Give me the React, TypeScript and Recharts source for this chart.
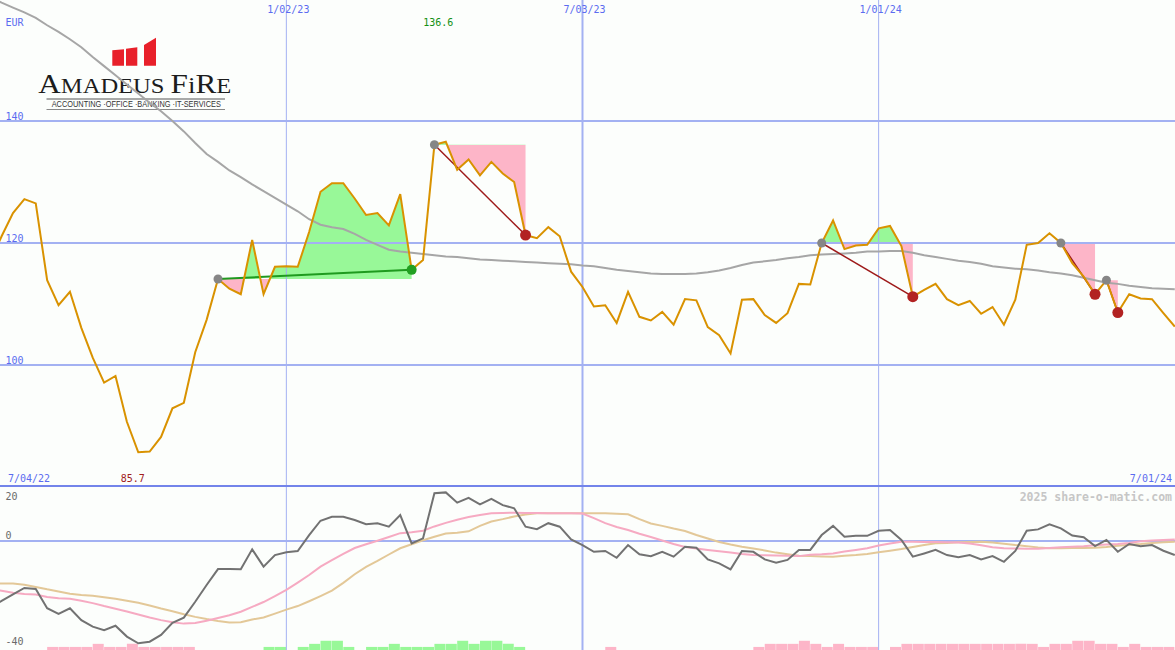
import React from "react";
import {
  ComposedChart,
  Line,
  Area,
  Bar,
  XAxis,
  YAxis,
  ReferenceLine,
  ReferenceDot,
} from "recharts";

// weekly closes, week 0 = 7/04/22
const PRICE = [
  117.0, 121.1, 124.9, 127.2, 126.5, 113.9, 109.8, 112.0, 106.1, 101.2,
  97.1, 98.2, 90.7, 85.7, 85.8, 88.2, 92.9, 93.8, 102.1, 107.4,
  114.1, 112.5, 111.6, 120.5, 111.6, 116.1, 116.2, 116.1, 121.8, 128.4,
  129.8, 129.8, 127.3, 124.6, 124.9, 122.9, 128.0, 115.6, 117.2, 136.1,
  136.6, 132.0, 133.7, 131.1, 133.3, 131.4, 130.0, 121.3, 120.8, 122.6,
  121.1, 115.3, 112.8, 109.6, 109.8, 106.9, 112.0, 107.9, 107.3, 108.7,
  106.6, 110.8, 110.6, 106.2, 104.9, 101.9, 110.7, 110.8, 108.2, 106.9,
  108.5, 113.3, 113.2, 120.0, 123.7, 119.0, 119.6, 119.7, 122.4, 122.8,
  119.5, 111.2, 112.3, 113.3, 110.8, 109.8, 110.5, 108.4, 109.5, 106.6,
  110.7, 119.7, 120.0, 121.6, 120.0, 116.7, 114.5, 111.6, 113.9, 108.6,
  111.6, 110.9, 110.8, 108.5, 106.3,
];

const AVG = [
  160.3, 159.4, 158.6, 157.8, 156.9, 155.7, 154.6, 153.4, 152.1, 150.5,
  149.0, 147.5, 146.0, 144.5, 143.0, 141.6, 140.0, 138.3, 136.4, 134.6,
  133.3, 131.9, 130.8, 129.6, 128.5, 127.4, 126.3, 125.2, 123.9, 123.0,
  122.6, 122.3, 121.5, 120.5, 119.7, 118.9, 118.6, 118.4, 118.2, 118.0,
  117.8, 117.7, 117.5, 117.3, 117.2, 117.1, 117.0, 116.9, 116.8, 116.7,
  116.6, 116.5, 116.3, 116.2, 115.9, 115.6, 115.4, 115.2, 115.0, 114.9,
  114.9, 114.9, 115.0, 115.2, 115.5, 115.9, 116.4, 116.8, 117.0, 117.2,
  117.5, 117.7, 118.0, 118.1, 118.2, 118.3, 118.4, 118.6, 118.6, 118.7,
  118.7, 118.4, 118.0, 117.7, 117.4, 117.1, 116.9, 116.6, 116.2, 116.0,
  115.8, 115.7, 115.5, 115.2, 115.0, 114.7, 114.3, 113.9, 113.5, 113.3,
  113.0, 112.8, 112.6, 112.5, 112.4,
];

const MOMENTUM = [
  -24.7, -22.2, -19.8, -17.4, -17.8, -24.9, -27.0, -24.9, -29.3, -31.7,
  -33.0, -31.4, -35.4, -37.9, -37.3, -34.8, -30.3, -28.4, -22.5, -16.3,
  -10.4, -10.4, -10.5, -3.1, -9.5, -5.2, -4.2, -3.7, 2.2, 7.5,
  9.0, 9.0, 7.8, 6.2, 6.6, 5.3, 9.6, -0.9, 1.0, 17.7,
  18.0, 14.2, 16.0, 13.6, 15.6, 13.3, 12.1, 5.3, 4.4, 6.6,
  5.3, 0.6, -1.5, -4.0, -3.7, -6.2, -1.5, -4.9, -5.6, -4.0,
  -5.8, -2.1, -2.5, -6.8, -8.3, -10.5, -3.7, -4.0, -6.8, -8.0,
  -7.0, -3.3, -3.3, 2.2, 5.6, 1.6, 1.9, 1.9, 3.8, 4.1,
  0.4, -5.8, -4.6, -3.3, -5.2, -6.0, -5.2, -6.8, -5.6, -7.7,
  -3.7, 3.8, 4.3, 6.2, 4.7, 2.0, 1.4, -1.9, 0.4, -4.0,
  -1.1, -1.9, -1.5, -3.6, -5.2,
];

const SIGNAL_FAST = [
  -17.8, -18.4, -19.2, -19.6, -19.8, -20.7, -21.2, -21.4, -22.1, -23.0,
  -24.1, -25.1, -26.1, -27.2, -28.3, -29.3, -30.1, -30.6, -30.4, -29.5,
  -28.5, -27.5, -26.2, -24.4, -22.6, -20.4, -18.1, -15.4, -12.6, -9.5,
  -7.1, -4.8, -2.6, -1.2, 0.1, 1.5, 2.9, 3.2, 3.8, 5.4,
  6.7, 7.9, 8.9, 9.6, 10.3, 10.4, 10.5, 10.4, 10.4, 10.3,
  10.3, 10.3, 10.2, 8.5, 6.6, 5.2, 4.1, 2.7, 1.5, 0.2,
  -1.1, -2.2, -2.8, -3.3, -3.8, -4.3, -4.8, -5.2, -5.3, -5.4,
  -5.5, -5.6, -5.1, -4.9, -4.6, -3.9, -3.3, -2.7, -1.7, -0.9,
  -0.3, -0.3, -0.4, -0.4, -0.5, -0.6, -0.9, -1.6, -2.3, -2.7,
  -2.8, -2.9, -2.9, -2.6, -2.3, -2.1, -1.9, -1.6, -1.3, -1.1,
  -0.7, -0.1, 0.2, 0.4, 0.6,
];

const SIGNAL_SLOW = [
  -15.7, -15.7, -15.7, -16.2, -17.0, -17.9, -18.7, -19.5, -20.0, -20.3,
  -20.8, -21.4, -22.1, -22.9, -23.9, -25.0, -26.0, -27.1, -28.1, -28.9,
  -29.6, -30.2, -30.1, -29.1, -28.3, -26.9, -25.4, -24.1, -22.3, -20.4,
  -18.4, -15.5, -12.3, -9.6, -7.4, -5.0, -2.7, -1.2, 0.3, 1.6,
  2.8, 3.1, 3.6, 5.6, 7.2, 8.1, 9.1, 9.8, 10.3, 10.3,
  10.3, 10.3, 10.3, 10.3, 10.3, 10.1, 9.9, 8.1, 6.5, 5.6,
  4.6, 3.7, 2.2, 0.9, -0.4, -1.3, -2.1, -2.8, -3.5, -4.3,
  -4.9, -5.5, -5.6, -5.7, -5.8, -5.5, -5.2, -4.8, -4.2, -3.6,
  -3.0, -2.2, -1.5, -0.8, -0.7, -0.5, -0.4, -0.3, -0.6, -1.0,
  -1.5, -1.9, -2.4, -2.7, -2.7, -2.6, -2.6, -2.5, -2.2, -1.8,
  -1.4, -1.1, -0.7, -0.5, -0.3,
];

// strength histogram at the bottom (levels 1-3)
const BAR_UP = [
  0, 0, 0, 0, 0, 0, 0, 0, 0, 0,
  0, 0, 0, 0, 0, 0, 0, 0, 0, 0,
  0, 0, 0, 0, 1, 1, 0, 1, 2, 3,
  3, 1, 0, 1, 1, 2, 1, 1, 1, 2,
  2, 3, 2, 3, 3, 2, 1, 0, 0, 0,
  0, 0, 0, 0, 0, 0, 0, 0, 0, 0,
  0, 0, 0, 0, 0, 0, 0, 0, 0, 0,
  0, 0, 0, 0, 0, 0, 0, 0, 0, 0,
  0, 0, 0, 0, 0, 0, 0, 0, 0, 0,
  0, 0, 0, 0, 0, 0, 0, 0, 0, 0,
  0, 0, 0, 0, 0,
];
const BAR_DOWN = [
  0, 0, 0, 0, 0, 1, 1, 1, 1, 2,
  1, 1, 2, 1, 1, 1, 1, 1, 0, 0,
  0, 0, 0, 0, 0, 0, 0, 0, 0, 0,
  0, 0, 0, 0, 0, 0, 0, 0, 0, 0,
  0, 0, 0, 0, 0, 0, 0, 0, 0, 0,
  0, 0, 0, 0, 1, 0, 0, 0, 0, 0,
  0, 0, 0, 0, 0, 0, 0, 1, 2, 2,
  2, 3, 2, 1, 2, 1, 1, 1, 0, 1,
  2, 2, 2, 2, 2, 2, 2, 2, 2, 2,
  2, 2, 1, 2, 2, 3, 3, 2, 2, 1,
  2, 1, 1, 1, 0,
];

// trades: entry week / exit week
const TRADE_START = [20, 39, 73, 94, 98];
const TRADE_END = [37, 47, 81, 97, 99];

const GRID_WEEKS = [26, 52, 78];
const GRID_DATES = ["1/02/23", "7/03/23", "1/01/24"];
const PRICE_TICKS = [100, 120, 140];
const START_DATE = "7/04/22";
const END_DATE = "7/01/24";

const X_DOMAIN = [0.86, 104.02];
const PRICE_DOMAIN = [80, 159.84];
const OSC_DOMAIN = [-40.37, 20];

const MONO = "'DejaVu Sans Mono', 'Liberation Mono', monospace";
const AXIS_BLUE = "#5b6cf0";
const GRID = "#a3b1f2";
const UP_FILL = "#98f898";
const DOWN_FILL = "#fdb5c8";

const trades = TRADE_START.map((s, t) => {
  const e = TRADE_END[t];
  const entry = PRICE[s];
  const seg = PRICE.slice(s, e + 1);
  const hi = Math.max(...seg, entry);
  const lo = Math.min(...seg, entry);
  return { s, e, entry, off: hi === lo ? 0 : (hi - entry) / (hi - lo), win: PRICE[e] > entry };
});

const rows = PRICE.map((p, j) => {
  const r: any = {
    j,
    jb: j + 0.5,
    price: p,
    avg: AVG[j],
    mom: MOMENTUM[j],
    fast: SIGNAL_FAST[j],
    slow: SIGNAL_SLOW[j],
    up: BAR_UP[j] || null,
    down: BAR_DOWN[j] || null,
    entry: null,
    win: null,
    loss: null,
  };
  trades.forEach((tr, t) => {
    r["f" + t] = j >= tr.s && j <= tr.e ? p : null;
    r["l" + t] = j === tr.s || j === tr.e ? p : null;
    if (j === tr.s) r.entry = p;
    if (j === tr.e) {
      if (tr.win) r.win = p;
      else r.loss = p;
    }
  });
  return r;
});

const maxV = Math.max(...PRICE);
const minV = Math.min(...PRICE);
const maxJ = PRICE.indexOf(maxV);
const minJ = PRICE.indexOf(minV);

type Txt = {
  t: string;
  dx: number;
  dy: number;
  fill?: string;
  anchor?: "start" | "middle" | "end";
  size?: number;
  bold?: boolean;
  right?: boolean;
};

function texts(items: Txt[]) {
  return (props: any) => {
    const vb = props.viewBox || { x: 0, y: 0, width: 0, height: 0 };
    return (
      <g>
        {items.map((it, i) => (
          <text
            key={i}
            x={(it.right ? vb.x + vb.width : vb.x) + it.dx}
            y={vb.y + it.dy}
            fill={it.fill ?? AXIS_BLUE}
            fontFamily={MONO}
            fontSize={it.size ?? 10}
            fontWeight={it.bold ? 700 : 400}
            textAnchor={it.anchor ?? "start"}
          >
            {it.t}
          </text>
        ))}
      </g>
    );
  };
}

function Logo() {
  return (
    <svg width={300} height={130} style={{ position: "absolute", left: 0, top: 0 }}>
      <polygon points="112.3,50.3 124,49.3 124,65.7 112.3,65.7" fill="#e8202a" />
      <polygon points="126,48.7 137.3,47.3 137.3,65.7 126,65.7" fill="#e8202a" />
      <polygon points="144,45 156,37.7 156,65.7 144,65.7" fill="#e8202a" />
      <text
        x={38.3}
        y={92.7}
        fill="#1c1c1c"
        fontFamily="'Liberation Serif', 'DejaVu Serif', serif"
        textLength={193}
        lengthAdjust="spacingAndGlyphs"
      >
        <tspan fontSize={28}>A</tspan>
        <tspan fontSize={22}>MADEUS </tspan>
        <tspan fontSize={28}>F</tspan>
        <tspan fontSize={24}>i</tspan>
        <tspan fontSize={28}>R</tspan>
        <tspan fontSize={22}>E</tspan>
      </text>
      <line x1={46.5} x2={225} y1={99} y2={99} stroke="#555" strokeWidth={1} />
      <text
        transform="translate(51.7,107.3) scale(0.84,1)"
        x={0}
        y={0}
        fill="#333"
        fontSize={8.8}
        fontFamily="'Liberation Sans', Arial, sans-serif"
      >
        ACCOUNTING ·OFFICE ·BANKING ·IT-SERVICES
      </text>
      <line x1={46.5} x2={225} y1={109.5} y2={109.5} stroke="#888" strokeWidth={1} />
    </svg>
  );
}

export default function App() {
  return (
    <div style={{ position: "relative", width: 1175, height: 650, background: "#fcfefc", overflow: "hidden" }}>
      <style>{"body{margin:0}"}</style>
      <Logo />

      <div style={{ position: "absolute", left: 0, top: 0 }}>
        <ComposedChart width={1175} height={487} data={rows} margin={{ top: 0, right: 0, bottom: 0, left: 0 }}>
          <defs>
            {trades.map((tr, t) => (
              <linearGradient key={t} id={"tg" + t} x1="0" y1="0" x2="0" y2="1">
                <stop offset={0} stopColor={UP_FILL} />
                <stop offset={tr.off} stopColor={UP_FILL} />
                <stop offset={tr.off} stopColor={DOWN_FILL} />
                <stop offset={1} stopColor={DOWN_FILL} />
              </linearGradient>
            ))}
          </defs>
          <XAxis dataKey="j" type="number" domain={X_DOMAIN} hide allowDataOverflow />
          <YAxis type="number" domain={PRICE_DOMAIN} hide allowDataOverflow />

          {PRICE_TICKS.map((v) => (
            <ReferenceLine
              key={v}
              y={v}
              stroke={GRID}
              strokeWidth={2}
              label={texts(
                v === 140
                  ? [
                      { t: String(v), dx: 5.5, dy: -1.5 },
                      { t: "EUR", dx: 5.5, dy: -95.5 },
                    ]
                  : [{ t: String(v), dx: 5.5, dy: -1.5 }]
              )}
            />
          ))}
          {GRID_WEEKS.map((w, i) => (
            <ReferenceLine
              key={w}
              x={w}
              stroke={GRID}
              strokeWidth={i === 1 ? 2 : 1}
              label={texts([{ t: GRID_DATES[i], dx: 2, dy: 13, anchor: "middle" }])}
            />
          ))}
          <ReferenceLine
            y={80.16}
            stroke="#7384ea"
            strokeWidth={2}
            label={texts([
              { t: START_DATE, dx: 8, dy: -4 },
              { t: END_DATE, dx: -3, dy: -4, anchor: "end", right: true },
            ])}
          />

          {trades.map((tr, t) => (
            <Area
              key={"f" + t}
              dataKey={"f" + t}
              baseValue={tr.entry}
              type="linear"
              stroke="none"
              fill={`url(#tg${t})`}
              fillOpacity={1}
              dot={false}
              activeDot={false}
              isAnimationActive={false}
            />
          ))}

          <Line dataKey="avg" type="linear" stroke="#a6a6a6" strokeWidth={2} dot={false} activeDot={false} isAnimationActive={false} />

          {trades.map((tr, t) => (
            <Line
              key={"l" + t}
              dataKey={"l" + t}
              type="linear"
              connectNulls
              stroke={tr.win ? "#1f9a1f" : "#9e1a1a"}
              strokeWidth={tr.win ? 2 : 1.5}
              dot={false}
              activeDot={false}
              isAnimationActive={false}
            />
          ))}

          <Line dataKey="price" type="linear" stroke="#d99200" strokeWidth={2} dot={false} activeDot={false} isAnimationActive={false} />

          <Line dataKey="entry" stroke="none" dot={{ r: 4.5, fill: "#868686", stroke: "none" }} activeDot={false} isAnimationActive={false} />
          <Line dataKey="win" stroke="none" dot={{ r: 5, fill: "#22a022", stroke: "none" }} activeDot={false} isAnimationActive={false} />
          <Line dataKey="loss" stroke="none" dot={{ r: 5.5, fill: "#b22222", stroke: "none" }} activeDot={false} isAnimationActive={false} />

          <ReferenceDot
            x={maxJ}
            y={PRICE_DOMAIN[1]}
            r={0}
            fill="none"
            stroke="none"
            ifOverflow="visible"
            label={texts([{ t: maxV.toFixed(1), dx: -7.5, dy: 25.5, anchor: "middle", fill: "#139013" }])}
          />
          <ReferenceDot
            x={minJ}
            y={PRICE_DOMAIN[0]}
            r={0}
            fill="none"
            stroke="none"
            ifOverflow="visible"
            label={texts([{ t: minV.toFixed(1), dx: -5.5, dy: -5, anchor: "middle", fill: "#a02020" }])}
          />
        </ComposedChart>
      </div>

      <div style={{ position: "absolute", left: 0, top: 487 }}>
        <ComposedChart width={1175} height={163} data={rows} margin={{ top: 0, right: 0, bottom: 0, left: 0 }} barCategoryGap={0} barGap={0}>
          <XAxis xAxisId="l" dataKey="j" type="number" domain={X_DOMAIN} hide allowDataOverflow />
          <XAxis xAxisId="b" dataKey="jb" type="number" domain={X_DOMAIN} hide allowDataOverflow />
          <YAxis yAxisId="l" type="number" domain={OSC_DOMAIN} hide allowDataOverflow />
          <YAxis yAxisId="b" type="number" domain={[0, 53]} hide allowDataOverflow />

          {GRID_WEEKS.map((w, i) => (
            <ReferenceLine key={w} xAxisId="l" yAxisId="l" x={w} stroke={GRID} strokeWidth={i === 1 ? 2 : 1} />
          ))}
          <ReferenceLine
            xAxisId="l"
            yAxisId="l"
            y={0}
            stroke={GRID}
            strokeWidth={2}
            label={texts([{ t: "0", dx: 5.5, dy: -2.5, fill: "#6a6a6a" }])}
          />
          <ReferenceLine
            xAxisId="l"
            yAxisId="l"
            y={20}
            stroke="none"
            label={texts([
              { t: "20", dx: 5.5, dy: 13, fill: "#6a6a6a" },
              { t: "2025 share-o-matic.com", dx: -3, dy: 13.5, anchor: "end", right: true, fill: "#c6c6c6", size: 11.5, bold: true },
            ])}
          />
          <ReferenceLine
            xAxisId="l"
            yAxisId="l"
            y={-40}
            stroke="none"
            label={texts([{ t: "-40", dx: 5.5, dy: -4, fill: "#6a6a6a" }])}
          />

          <Bar xAxisId="b" yAxisId="b" dataKey="down" stackId="h" fill={DOWN_FILL} isAnimationActive={false} />
          <Bar xAxisId="b" yAxisId="b" dataKey="up" stackId="h" fill={UP_FILL} isAnimationActive={false} />

          <Line xAxisId="l" yAxisId="l" dataKey="slow" type="linear" stroke="#e3c898" strokeWidth={2} dot={false} activeDot={false} isAnimationActive={false} />
          <Line xAxisId="l" yAxisId="l" dataKey="fast" type="linear" stroke="#f6aac2" strokeWidth={2} dot={false} activeDot={false} isAnimationActive={false} />
          <Line xAxisId="l" yAxisId="l" dataKey="mom" type="linear" stroke="#727272" strokeWidth={2} dot={false} activeDot={false} isAnimationActive={false} />
        </ComposedChart>
      </div>
    </div>
  );
}
